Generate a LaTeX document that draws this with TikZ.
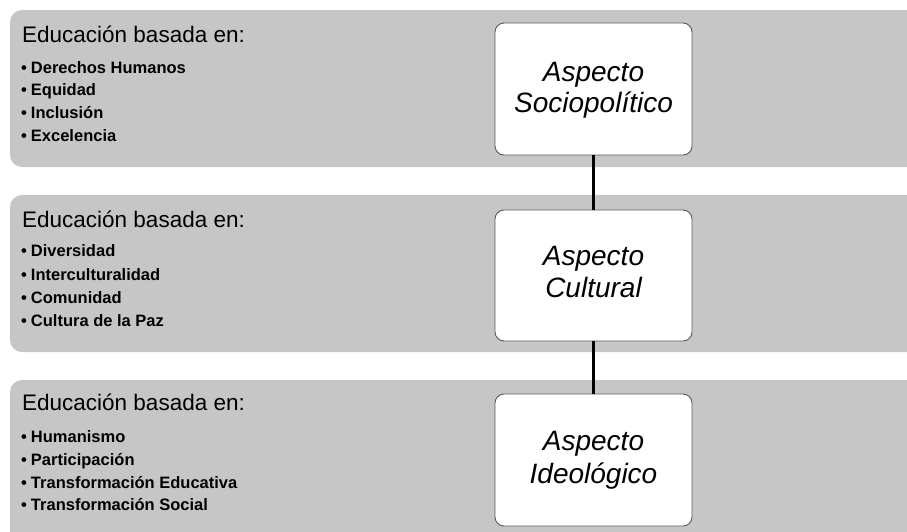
\documentclass[tikz,border=0pt]{standalone}
\usepackage{fontspec}
\setmainfont{Liberation Sans}
\definecolor{bandgray}{RGB}{198,198,198}
\definecolor{boxedge}{RGB}{90,90,90}
\begin{document}
\begin{tikzpicture}[x=1pt,y=-1pt,
  band/.style={fill=bandgray,rounded corners=12pt},
  aspect/.style={draw=boxedge,line width=0.9pt,fill=white,rounded corners=9pt,
    minimum width=197pt,inner sep=0pt},
  aspecttext/.style={font=\fontsize{28}{32}\selectfont\itshape,anchor=base,inner sep=0pt},
  head/.style={font=\fontsize{22.5}{26}\selectfont,anchor=base west,inner sep=0pt},
  item/.style={font=\fontsize{16.5}{19}\selectfont\bfseries,anchor=base west,inner sep=0pt},
  link/.style={line width=2.2pt,black}]
\useasboundingbox (0,0) rectangle (907,531);
\begin{scope}
\clip (0,0) rectangle (907,531);
% grey bands, running off the right and bottom edges
\fill[band] (10,10) rectangle (930,167);
\fill[band] (10,195) rectangle (930,352);
\fill[band] (10,380) rectangle (930,560);
\end{scope}

% aspect boxes
\node[aspect,minimum height=132pt] (soc) at (593.5,89) {};
\node[aspect,minimum height=131pt] (cul) at (593.5,275.5) {};
\node[aspect,minimum height=132pt] (ide) at (593.5,460) {};

\node[aspecttext] (soc1) at (593.5,81) {Aspecto};
\node[aspecttext] (soc2) at (593.5,112) {Sociopolítico};
\node[aspecttext] (cul1) at (593.5,265) {Aspecto};
\node[aspecttext] (cul2) at (593.5,297) {Cultural};
\node[aspecttext] (ide1) at (593.5,450) {Aspecto};
\node[aspecttext] (ide2) at (593.5,483) {Ideológico};

% connectors
\draw[link] (soc.south) -- (cul.north);
\draw[link] (cul.south) -- (ide.north);

% left-hand lists
\newcommand{\bul}{\textbullet\hspace{4pt}}
\node[head] (h1) at (22,42) {Educación basada en:};
\node[item] (a1) at (21,73) {\bul Derechos Humanos};
\node[item] (a2) at (21,95) {\bul Equidad};
\node[item] (a3) at (21,118) {\bul Inclusión};
\node[item] (a4) at (21,141) {\bul Excelencia};

\node[head] (h2) at (22,227) {Educación basada en:};
\node[item] (b1) at (21,256) {\bul Diversidad};
\node[item] (b2) at (21,280) {\bul Interculturalidad};
\node[item] (b3) at (21,303) {\bul Comunidad};
\node[item] (b4) at (21,326) {\bul Cultura de la Paz};

\node[head] (h3) at (22,410) {Educación basada en:};
\node[item] (c1) at (21,442) {\bul Humanismo};
\node[item] (c2) at (21,465) {\bul Participación};
\node[item] (c3) at (21,488) {\bul Transformación Educativa};
\node[item] (c4) at (21,510) {\bul Transformación Social};
\end{tikzpicture}
\end{document}
